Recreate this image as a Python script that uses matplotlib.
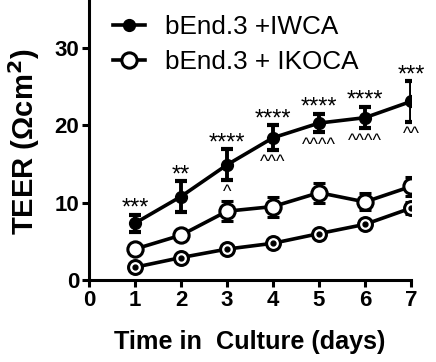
import matplotlib
matplotlib.use("Agg")
import matplotlib.pyplot as plt
from matplotlib.lines import Line2D
from matplotlib.legend_handler import HandlerTuple

plt.rcParams['font.family'] = ['Liberation Sans', 'DejaVu Sans']

days = [1, 2, 3, 4, 5, 6, 7]
bend_mean = [1.65, 2.9, 4.0, 4.75, 6.0, 7.2, 9.3]
bend_err = [0.3, 0.3, 0.4, 0.4, 0.4, 0.5, 0.8]
iwca_mean = [7.35, 10.8, 14.9, 18.4, 20.3, 21.0, 23.1]
iwca_err = [1.1, 2.0, 2.0, 1.6, 1.2, 1.4, 2.6]
ikoca_mean = [4.0, 5.8, 8.9, 9.5, 11.3, 10.1, 12.1]
ikoca_err = [0.3, 0.4, 1.3, 1.3, 1.3, 1.1, 1.2]
stars = ["***", "**", "****", "****", "****", "****", "***"]
carets = ["", "", "^", "^^^", "^^^^", "^^^^", "^^"]
labels = ["bEnd.3", "bEnd.3 +IWCA", "bEnd.3 + IKOCA"]
xticks = [0, 1, 2, 3, 4, 5, 6, 7]
yticks = [0, 10, 20, 30]

W, H = 436, 362
fig = plt.figure(figsize=(W / 100, H / 100), dpi=100)
x0, x1 = 89, 411
y0 = 280
ppu = 7.73
ymax = 40
ytop = y0 - ymax * ppu
ax = fig.add_axes([x0 / W, (H - y0) / H, (x1 - x0) / W, (y0 - ytop) / H])

lw = 2.6
ebkw = dict(elinewidth=2.8, capsize=4.5, capthick=3.0, ecolor='black')

ax.errorbar(days, bend_mean, yerr=bend_err, color='black', lw=lw, marker='o',
            ms=10, mfc='white', mec='black', mew=2.2, zorder=3, **ebkw)
ax.plot(days, bend_mean, ls='none', marker='o', ms=3.5, color='black', zorder=4)
ax.errorbar(days, ikoca_mean, yerr=ikoca_err, color='black', lw=lw, marker='o',
            ms=11, mfc='white', mec='black', mew=2.2, zorder=3, **ebkw)
ax.errorbar(days, iwca_mean, yerr=iwca_err, color='black', lw=lw, marker='o',
            ms=8.5, mfc='black', mec='black', zorder=3, **ebkw)

for d, m, e, s, c in zip(days, iwca_mean, iwca_err, stars, carets):
    ax.annotate(s, (d, m + e), xytext=(0, 0), textcoords='offset points',
                ha='center', va='baseline', fontsize=17)
    if c:
        ax.annotate(c, (d, m - e), xytext=(0, -3), textcoords='offset points',
                    ha='center', va='top', fontsize=13)

ax.set_xlim(0, 7)
ax.set_ylim(0, ymax)
ax.set_xticks(xticks)
ax.set_yticks(yticks)
ax.tick_params(width=2.2, length=5, labelsize=16, pad=2)
for lab in ax.get_xticklabels() + ax.get_yticklabels():
    lab.set_fontweight('bold')
for sp in ['top', 'right']:
    ax.spines[sp].set_visible(False)
for sp in ['left', 'bottom']:
    ax.spines[sp].set_linewidth(2.2)

ax.set_xlabel("Time in  Culture (days)", fontsize=18.2, fontweight='bold')
ax.xaxis.set_label_coords((250 - x0) / (x1 - x0), -(342 - y0) / (y0 - ytop))
ax.xaxis.label.set_va('center')
ax.set_ylabel("TEER (\u03A9cm$^\\mathbf{2}$)", fontsize=21, fontweight='bold')
ax.yaxis.set_label_coords((42 - x0) / (x1 - x0), (y0 - 142) / (y0 - ytop))

h_bend_o = Line2D([], [], color='black', lw=lw, marker='o', ms=10, mfc='white', mec='black', mew=2.2)
h_bend_d = Line2D([], [], ls='none', marker='o', ms=3.5, color='black')
h_iwca = Line2D([], [], color='black', lw=lw, marker='o', ms=8.5, mfc='black')
h_ikoca = Line2D([], [], color='black', lw=lw, marker='o', ms=11, mfc='white', mec='black', mew=2.2)
leg = ax.legend([(h_bend_o, h_bend_d), h_iwca, h_ikoca], labels,
                handler_map={tuple: HandlerTuple(ndivide=1)},
                loc='upper left',
                bbox_to_anchor=((113 - x0) / (x1 - x0), (y0 + 20) / (y0 - ytop)),
                borderaxespad=0, borderpad=0, frameon=False,
                fontsize=18.8, handlelength=1.23, handletextpad=0.77, labelspacing=0.43)

fig.savefig("out.png", dpi=100)
